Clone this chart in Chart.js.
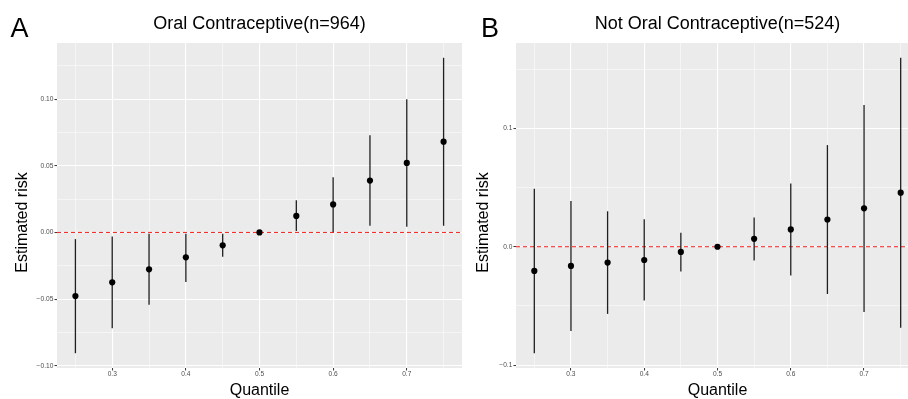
<!DOCTYPE html>
<html>
<head>
<meta charset="utf-8">
<script src="https://cdn.jsdelivr.net/npm/chart.js@4.4.1/dist/chart.umd.min.js"></script>
<style>
  html, body { margin: 0; padding: 0; background: #fff; overflow: hidden; width: 908px; height: 399px; }
  #wrap { position: relative; width: 908px; height: 399px; overflow: hidden; }
  canvas { position: absolute; top: 0; }
  #cA { left: 0; }
  #cB { left: 466px; }
</style>
</head>
<body>
<div id="wrap">
  <canvas id="cA" width="466" height="399"></canvas>
  <canvas id="cB" width="464" height="399"></canvas>
</div>
<script>
// ---------- data ----------
const quantiles = [0.25, 0.30, 0.35, 0.40, 0.45, 0.50, 0.55, 0.60, 0.65, 0.70, 0.75];

const ocEst  = [-0.0477, -0.0374, -0.0277, -0.0187, -0.0097, 0, 0.0124, 0.0210, 0.0389, 0.0521, 0.0681];
const ocLow  = [-0.0906, -0.0719, -0.0542, -0.0372, -0.0183, 0, 0.0010, 0.0002, 0.0050, 0.0042, 0.0050];
const ocHigh = [-0.0050, -0.0030, -0.0010, -0.0010, -0.0010, 0, 0.0242, 0.0414, 0.0728, 0.0998, 0.1310];

const nocEst  = [-0.0204, -0.0162, -0.0134, -0.0112, -0.0044, 0, 0.0067, 0.0146, 0.0230, 0.0324, 0.0456];
const nocLow  = [-0.0899, -0.0712, -0.0567, -0.0453, -0.0210, 0, -0.0117, -0.0243, -0.0399, -0.0550, -0.0684];
const nocHigh = [0.0490, 0.0386, 0.0299, 0.0232, 0.0117, 0, 0.0246, 0.0534, 0.0858, 0.1196, 0.1595];

const xMajorTicks = [0.3, 0.4, 0.5, 0.6, 0.7];
const xMinorTicks = [0.25, 0.35, 0.45, 0.55, 0.65, 0.75];
const xTickLabels = ['0.3', '0.4', '0.5', '0.6', '0.7'];

const yMajorA = [-0.10, -0.05, 0, 0.05, 0.10];
const yMinorA = [-0.075, -0.025, 0.025, 0.075, 0.125];
const yLabelsA = ['\u22120.10', '\u22120.05', '0.00', '0.05', '0.10'];

const yMajorB = [-0.1, 0, 0.1];
const yMinorB = [-0.05, 0.05, 0.15];
const yLabelsB = ['\u22120.1', '0.0', '0.1'];

// ---------- helpers ----------
const FONT = "'Liberation Sans', Arial, Helvetica, sans-serif";
const near = (a, b) => Math.abs(a - b) < 1e-9;
const isIn = (arr, v) => arr.some(t => near(t, v));

function expand(lo, hi, f) { const r = hi - lo; return [lo - r * f, hi + r * f]; }

const panelBg = {
  id: 'panelBg',
  beforeDraw(chart) {
    const a = chart.chartArea, c = chart.ctx;
    c.save(); c.fillStyle = '#EBEBEB';
    c.fillRect(a.left, a.top, a.right - a.left, a.bottom - a.top);
    c.restore();
  }
};

const extraText = {
  id: 'extraText',
  afterDraw(chart, args, opts) {
    const c = chart.ctx;
    c.save();
    c.fillStyle = '#000';
    c.font = '27px ' + FONT;
    c.textBaseline = 'alphabetic';
    c.textAlign = 'left';
    c.fillText(opts.tag, opts.tagX, 37.3);
    c.font = '16px ' + FONT;
    c.translate(opts.yTitleX, opts.yTitleY);
    c.rotate(-Math.PI / 2);
    c.textAlign = 'center';
    c.textBaseline = 'middle';
    c.fillText('Estimated risk', 0, 0);
    c.restore();
  }
};

function makeChart(id, title, est, low, high, yMajor, yMinor, yLabels, cfg) {
  const [xmin, xmax] = expand(Math.min(...quantiles), Math.max(...quantiles), 0.05);
  const [ymin, ymax] = expand(Math.min(...low), Math.max(...high), 0.05);
  const xAll = [...xMinorTicks, ...xMajorTicks].sort((a, b) => a - b);
  const yAll = [...yMinor, ...yMajor].sort((a, b) => a - b);

  return new Chart(document.getElementById(id), {
    type: 'scatter',
    data: {
      datasets: [
        {
          type: 'scatter',
          data: quantiles.map((q, i) => ({ x: q, y: est[i] })),
          pointRadius: 3.1,
          pointBackgroundColor: '#000',
          pointBorderWidth: 0,
          pointHoverRadius: 3.1
        },
        {
          type: 'bar',
          data: quantiles.map((q, i) => ({ x: q, y: [low[i], high[i]] })),
          backgroundColor: '#1f1f1f',
          borderWidth: 0,
          barThickness: 1.3,
          inflateAmount: 0,
          grouped: false
        },
        {
          type: 'line',
          data: [{ x: xmin, y: 0 }, { x: xmax, y: 0 }],
          borderColor: '#FF1A1A',
          borderWidth: 1,
          borderDash: [4, 3],
          pointRadius: 0,
          fill: false
        }
      ]
    },
    options: {
      responsive: false,
      animation: false,
      devicePixelRatio: 1,
      layout: { padding: { left: cfg.padLeft, right: cfg.padRight, top: 0, bottom: 0 } },
      plugins: {
        legend: { display: false },
        tooltip: { enabled: false },
        title: {
          display: true,
          text: title,
          fullSize: false,
          color: '#000',
          font: { family: FONT, size: 18, weight: 'normal', lineHeight: 1.2 },
          padding: { top: 13.5, bottom: 7.9 }
        },
        extraText: cfg.text
      },
      scales: {
        x: {
          type: 'linear',
          min: xmin, max: xmax,
          offset: false,
          afterFit: s => { s.height = 31; },
          afterBuildTicks: s => { s.ticks = xAll.map(v => ({ value: v })); },
          border: { display: false },
          grid: {
            offset: false,
            color: '#FFFFFF',
            lineWidth: c => (c.tick && isIn(xMajorTicks, c.tick.value)) ? 1.1 : 0.5,
            tickColor: c => (c.tick && isIn(xMajorTicks, c.tick.value)) ? '#333333' : 'rgba(0,0,0,0)',
            tickLength: 2.5,
            tickWidth: 1,
            drawTicks: true
          },
          ticks: {
            autoSkip: false,
            maxRotation: 0,
            padding: 0,
            color: '#4D4D4D',
            font: { family: FONT, size: 6.6, lineHeight: 1 },
            callback: v => { const k = xMajorTicks.findIndex(t => near(t, v)); return k >= 0 ? xTickLabels[k] : ''; }
          },
          title: {
            display: true,
            text: 'Quantile',
            color: '#000',
            font: { family: FONT, size: 16, lineHeight: 1.04 },
            padding: { top: 0, bottom: 0 }
          }
        },
        y: {
          type: 'linear',
          min: ymin, max: ymax,
          afterFit: s => { s.width = cfg.yWidth; },
          afterBuildTicks: s => { s.ticks = yAll.map(v => ({ value: v })); },
          border: { display: false },
          grid: {
            offset: false,
            color: '#FFFFFF',
            lineWidth: c => (c.tick && isIn(yMajor, c.tick.value)) ? 1.1 : 0.5,
            tickColor: c => (c.tick && isIn(yMajor, c.tick.value)) ? '#333333' : 'rgba(0,0,0,0)',
            tickLength: 2.5,
            tickWidth: 1,
            drawTicks: true
          },
          ticks: {
            autoSkip: false,
            padding: 1.2,
            color: '#4D4D4D',
            font: { family: FONT, size: 6.6, lineHeight: 1 },
            callback: v => { const k = yMajor.findIndex(t => near(t, v)); return k >= 0 ? yLabels[k] : ''; }
          },
          title: { display: false }
        }
      }
    },
    plugins: [panelBg, extraText]
  });
}

makeChart('cA', 'Oral Contraceptive(n=964)', ocEst, ocLow, ocHigh, yMajorA, yMinorA, yLabelsA,
  { padLeft: 0, padRight: 4, yWidth: 57, text: { tag: 'A', tagX: 10.5, yTitleX: 22.5, yTitleY: 222.5 } });

makeChart('cB', 'Not Oral Contraceptive(n=524)', nocEst, nocLow, nocHigh, yMajorB, yMinorB, yLabelsB,
  { padLeft: 0, padRight: 11, yWidth: 50, text: { tag: 'B', tagX: 15, yTitleX: 17.3, yTitleY: 222.5 } });
</script>
</body>
</html>
